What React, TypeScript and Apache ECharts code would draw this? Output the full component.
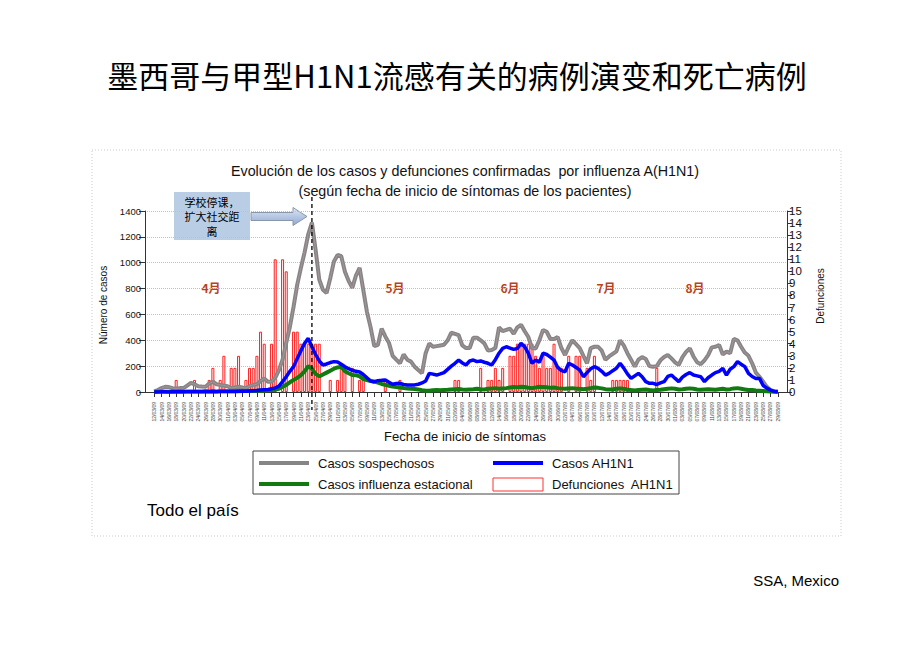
import React, { useEffect, useRef } from "react";
import * as echarts from "echarts";

// ---- data (daily, from 12/03/09) ----
const START_Y = 2009;
const START_M = 2; // March (0-based)
const START_D = 12;
const PAD = 2; // empty categories at each end of the axis
const CLOSURE_DAY = 43; // index of 24/04/09, school closure

const sospechosos = [
  5, 15, 30, 40, 38, 30, 28, 30, 30, 50,
  70, 60, 45, 42, 40, 65, 80, 60, 55, 50,
  45, 30, 35, 40, 35, 30, 45, 55, 60, 85,
  105, 80, 80, 110, 170, 250, 380, 505, 660, 830,
  960, 1080, 1220, 1310, 1100, 870, 790, 765, 880, 1010,
  1060, 1050, 930, 860, 805, 900, 960, 790, 620, 500,
  355, 365, 490, 430, 380, 280, 250, 222, 290, 250,
  235, 196, 170, 145, 300, 375, 350, 355, 360, 365,
  400, 460, 450, 440, 360, 340, 340, 420, 420, 400,
  376, 320, 325, 340, 500, 470, 480, 490, 450, 500,
  520, 470, 425, 340, 337, 400, 480, 466, 410, 410,
  425, 340, 286, 350, 400, 370, 340, 280, 222, 340,
  350, 350, 320, 250, 275, 295, 315, 400, 360, 300,
  250, 196, 250, 270, 255, 200, 196, 200, 245, 270,
  286, 260, 230, 210, 270, 310, 337, 275, 230, 215,
  245, 285, 345, 350, 363, 290, 312, 300, 410, 400,
  350, 305, 280, 222, 150, 118, 80, 40, 15, 6,
  2,
];

const ah1n1 = [
  0, 0, 1, 1, 0, 1, 1, 2, 1, 2,
  1, 2, 1, 2, 3, 2, 3, 2, 3, 3,
  4, 3, 4, 5, 5, 6, 8, 10, 12, 15,
  18, 20, 25, 32, 45, 80, 118, 160, 196, 260,
  320, 376, 415, 350, 290, 240, 209, 217, 228, 235,
  232, 215, 196, 180, 168, 160, 155, 135, 110, 85,
  80, 88, 90, 93, 75, 60, 65, 67, 58, 54,
  54, 55, 60, 70, 85, 144, 138, 131, 140, 150,
  175, 200, 222, 247, 225, 209, 240, 247, 235, 240,
  230, 222, 209, 250, 300, 337, 350, 340, 330, 337,
  376, 350, 299, 222, 247, 230, 300, 290, 270, 247,
  190, 165, 157, 222, 209, 190, 170, 118, 150, 180,
  196, 183, 160, 131, 144, 165, 183, 222, 185, 140,
  105, 125, 144, 118, 80, 67, 67, 58, 70, 80,
  120, 131, 105, 80, 115, 135, 150, 131, 125, 118,
  80, 110, 131, 150, 160, 183, 131, 176, 196, 235,
  215, 196, 144, 120, 105, 105, 50, 30, 15, 5,
  0,
];

const estacional = [
  0, 1, 2, 1, 2, 3, 2, 3, 2, 3,
  3, 4, 3, 4, 5, 4, 5, 4, 5, 6,
  5, 6, 5, 6, 7, 8, 7, 8, 9, 10,
  12, 14, 16, 18, 25, 40, 55, 75, 93, 110,
  130, 160, 200, 180, 140, 120, 135, 150, 165, 180,
  190, 196, 160, 145, 131, 130, 120, 100, 93, 85,
  80, 72, 62, 55, 48, 42, 38, 35, 30, 28,
  26, 23, 20, 14, 9, 10, 14, 15, 13, 16,
  17, 20, 22, 23, 20, 18, 20, 22, 25, 22,
  20, 25, 28, 30, 25, 28, 30, 35, 38, 36,
  40, 38, 33, 30, 35, 40, 38, 36, 32, 35,
  30, 28, 25, 28, 30, 26, 25, 22, 25, 30,
  35, 32, 28, 22, 20, 22, 25, 28, 25, 20,
  15, 12, 15, 18, 20, 15, 12, 15, 18, 22,
  25, 28, 25, 20, 22, 25, 28, 25, 20, 18,
  20, 22, 20, 18, 22, 25, 20, 22, 28, 30,
  25, 20, 15, 15, 12, 10, 8, 5, 4, 2,
  1,
];

const defunciones = [
  0, 0, 0, 0, 0, 0, 1, 0, 0, 0,
  0, 1, 0, 0, 0, 1, 2, 0, 1, 3,
  0, 2, 2, 3, 0, 1, 2, 2, 3, 5,
  4, 0, 4, 11, 0, 11, 10, 0, 5, 5,
  4, 4, 4, 4, 4, 4, 0, 0, 1, 0,
  1, 2, 2, 0, 2, 0, 1, 1, 0, 0,
  0, 0, 0, 1, 0, 0, 0, 1, 0, 0,
  0, 0, 0, 0, 0, 0, 0, 0, 0, 0,
  0, 0, 1, 1, 0, 0, 0, 0, 0, 2,
  0, 1, 1, 2, 1, 2, 0, 3, 3, 4,
  4, 4, 4, 4, 3, 2, 3, 2, 2, 4,
  2, 2, 0, 3, 0, 3, 3, 0, 2, 1,
  3, 0, 0, 0, 0, 1, 1, 1, 1, 1,
  0, 0, 0, 0, 0, 0, 0, 2, 0, 0,
  0, 0, 0, 0, 0, 0, 0, 0, 0, 0,
  0, 0, 0, 0, 0, 0, 0, 0, 0, 0,
  0, 0, 0, 0, 0, 0, 0, 0, 0, 0,
  0,
];

const monthLabels = ["4月", "5月", "6月", "7月", "8月"];
const monthX = [211, 395, 510, 606, 695];

const seriesNames = {
  sosp: "Casos sospechosos",
  ah: "Casos AH1N1",
  est: "Casos influenza estacional",
  def: "Defunciones  AH1N1",
};

const LATIN = "'Liberation Sans', Arial, sans-serif";
const CJK = "'Noto Sans CJK SC', sans-serif";

function two(n: number) {
  return n < 10 ? "0" + n : "" + n;
}
function dateLabel(i: number) {
  const d = new Date(START_Y, START_M, START_D + i);
  return two(d.getDate()) + "/" + two(d.getMonth() + 1) + "/" + two(d.getFullYear() % 100);
}

const hiddenSymbol = { color: "rgba(0,0,0,0)", borderWidth: 0, opacity: 0 };

export default function App() {
  const ref = useRef<HTMLDivElement>(null);

  useEffect(() => {
    if (!ref.current) return;
    const chart = echarts.init(ref.current, undefined, { renderer: "svg" });
    const n = sospechosos.length;
    const padL = Array.from({ length: PAD }, (_, k) => " ".repeat(k + 1));
    const padR = Array.from({ length: PAD }, (_, k) => " ".repeat(k + 1 + PAD));
    const categories = [...padL, ...sospechosos.map((_, i) => dateLabel(i)), ...padR];
    const nulls = Array.from({ length: PAD }, () => null);
    const padData = (arr: (number | null)[]) => [...nulls, ...arr, ...nulls];
    const showIdx = (idx: number) => idx >= PAD && idx < PAD + n && (idx - PAD) % 2 === 0;

    const legendCommon = {
      orient: "vertical",
      itemWidth: 50,
      itemHeight: 13,
      itemGap: 8,
      padding: 0,
      selectedMode: false,
      textStyle: { fontSize: 13, color: "#111", fontFamily: LATIN, padding: [0, 0, 0, 4] },
    };

    const option: any = {
      animation: false,
      backgroundColor: "#ffffff",
      title: [
        {
          text: "墨西哥与甲型H1N1流感有关的病例演变和死亡病例",
          left: 457,
          top: 59,
          textAlign: "center",
          padding: 0,
          textStyle: { fontSize: 31, fontWeight: "normal", color: "#000", fontFamily: CJK },
        },
        {
          text:
            "Evolución de los casos y defunciones confirmadas  por influenza A(H1N1)\n(según fecha de inicio de síntomas de los pacientes)",
          left: 465,
          top: 161,
          textAlign: "center",
          padding: 0,
          textStyle: { fontSize: 14.3, lineHeight: 20, fontWeight: "normal", color: "#111", fontFamily: LATIN },
        },
      ],
      legend: [
        {
          ...legendCommon,
          left: 257,
          top: 456.5,
          data: [
            { name: seriesNames.sosp, lineStyle: { width: 4, color: "#858585" }, itemStyle: hiddenSymbol },
            { name: seriesNames.est, lineStyle: { width: 4, color: "#117a11" }, itemStyle: hiddenSymbol },
          ],
        },
        {
          ...legendCommon,
          left: 491,
          top: 456.5,
          data: [
            { name: seriesNames.ah, lineStyle: { width: 4, color: "#0000ff" }, itemStyle: hiddenSymbol },
            {
              name: seriesNames.def,
              icon: "rect",
              itemStyle: { color: "#ffffff", borderColor: "#ff3030", borderWidth: 1 },
            },
          ],
        },
      ],
      grid: { left: 145, right: 133, top: 211, bottom: 259, containLabel: false },
      xAxis: {
        type: "category",
        data: categories,
        boundaryGap: true,
        offset: 7,
        axisLine: { show: true, lineStyle: { color: "#333", width: 1 } },
        axisTick: {
          show: true,
          interval: (idx: number) => showIdx(idx),
          alignWithLabel: true,
          length: 5,
          lineStyle: { color: "#333" },
        },
        axisLabel: {
          interval: (idx: number) => showIdx(idx),
          rotate: 90,
          fontSize: 5,
          color: "#444",
          margin: 3,
          fontFamily: LATIN,
        },
        splitLine: { show: false },
      },
      yAxis: [
        {
          type: "value",
          min: 0,
          max: 1400,
          interval: 200,
          position: "left",
          axisLine: { show: true, lineStyle: { color: "#333" } },
          axisTick: { show: true, length: 6, lineStyle: { color: "#333" } },
          axisLabel: {
            fontSize: 9.5,
            color: "#111",
            margin: 4,
            fontFamily: LATIN,
            formatter: (v: number) => String(v),
          },
          splitLine: { show: true, lineStyle: { color: "#b2c6da", type: "dotted", width: 1 } },
        },
        {
          type: "value",
          min: 0,
          max: 15,
          interval: 1,
          position: "right",
          axisLine: { show: true, lineStyle: { color: "#333" } },
          axisTick: { show: true, length: 5, lineStyle: { color: "#333" } },
          axisLabel: {
            fontSize: 11.5,
            lineHeight: 11,
            color: "#111",
            margin: 2,
            fontFamily: LATIN,
            showMinLabel: true,
            showMaxLabel: true,
            hideOverlap: false,
            formatter: (v: number) => String(v),
          },
          splitLine: { show: false },
        },
      ],
      series: [
        {
          name: seriesNames.def,
          type: "bar",
          yAxisIndex: 1,
          barWidth: 3,
          z: 1,
          data: padData(defunciones.map((v) => (v > 0 ? v : null))),
          itemStyle: { color: "rgba(255,225,225,0.45)", borderColor: "#ff2020", borderWidth: 1 },
        },
        {
          name: seriesNames.sosp,
          type: "line",
          symbol: "none",
          z: 3,
          data: padData(sospechosos),
          lineStyle: { color: "#858585", width: 4 },
          itemStyle: { color: "#858585" },
        },
        {
          name: "sospechosos-centro",
          type: "line",
          symbol: "none",
          silent: true,
          z: 4,
          data: padData(sospechosos),
          lineStyle: { color: "#a89498", width: 1 },
        },
        {
          name: seriesNames.est,
          type: "line",
          symbol: "none",
          z: 5,
          data: padData(estacional),
          lineStyle: { color: "#117a11", width: 4 },
          itemStyle: { color: "#117a11" },
        },
        {
          name: seriesNames.ah,
          type: "line",
          symbol: "none",
          z: 6,
          data: padData(ah1n1),
          lineStyle: { color: "#0000ff", width: 3.5 },
          itemStyle: { color: "#0000ff" },
        },
      ],
      graphic: [
        {
          id: "frame",
          type: "rect",
          silent: true,
          shape: { x: 92, y: 150, width: 749, height: 386 },
          style: { fill: "none", stroke: "#c5ccd6", lineWidth: 1, lineDash: [1, 2] },
        },
        {
          id: "legendBox",
          type: "rect",
          silent: true,
          shape: { x: 253, y: 451, width: 426, height: 43 },
          style: { fill: "none", stroke: "#444", lineWidth: 1 },
        },
        {
          id: "noteBox",
          type: "rect",
          silent: true,
          shape: { x: 174, y: 192, width: 76, height: 48 },
          style: { fill: "#b9cde5" },
        },
        {
          id: "noteText",
          type: "text",
          silent: true,
          x: 212,
          y: 216,
          style: {
            text: "学校停课，\n扩大社交距\n离",
            fontSize: 11,
            lineHeight: 14.5,
            fontFamily: CJK,
            fill: "#000",
            align: "center",
            verticalAlign: "middle",
          },
        },
        {
          id: "noteArrow",
          type: "polygon",
          silent: true,
          shape: {
            points: [
              [251, 212.5],
              [293, 212.5],
              [293, 207.5],
              [307, 216.5],
              [293, 225.5],
              [293, 220.5],
              [251, 220.5],
            ],
          },
          style: {
            fill: new echarts.graphic.LinearGradient(0, 0, 0, 1, [
              { offset: 0, color: "#dfe8f5" },
              { offset: 1, color: "#8ea7d2" },
            ]),
            stroke: "#8a96aa",
            lineWidth: 1,
          },
        },
        ...monthLabels.map((t, i) => ({
          id: "month" + i,
          type: "text",
          silent: true,
          x: monthX[i],
          y: 287,
          style: {
            text: t,
            fontSize: 12,
            fontWeight: "bold",
            fontFamily: CJK,
            fill: "#b8421e",
            align: "center",
            verticalAlign: "middle",
          },
        })),
        {
          id: "yName",
          type: "text",
          silent: true,
          x: 103,
          y: 305,
          rotation: Math.PI / 2,
          style: {
            text: "Número de casos",
            fontSize: 10,
            fontFamily: LATIN,
            fill: "#111",
            align: "center",
            verticalAlign: "middle",
          },
        },
        {
          id: "y2Name",
          type: "text",
          silent: true,
          x: 820,
          y: 296,
          rotation: Math.PI / 2,
          style: {
            text: "Defunciones",
            fontSize: 10,
            fontFamily: LATIN,
            fill: "#111",
            align: "center",
            verticalAlign: "middle",
          },
        },
        {
          id: "xName",
          type: "text",
          silent: true,
          x: 465,
          y: 436,
          style: {
            text: "Fecha de inicio de síntomas",
            fontSize: 13,
            fontFamily: LATIN,
            fill: "#111",
            align: "center",
            verticalAlign: "middle",
          },
        },
        {
          id: "scope",
          type: "text",
          silent: true,
          x: 147,
          y: 510,
          style: {
            text: "Todo el país",
            fontSize: 17,
            fontFamily: LATIN,
            fill: "#000",
            align: "left",
            verticalAlign: "middle",
          },
        },
        {
          id: "source",
          type: "text",
          silent: true,
          x: 839,
          y: 580,
          style: {
            text: "SSA, Mexico",
            fontSize: 15,
            fontFamily: LATIN,
            fill: "#000",
            align: "right",
            verticalAlign: "middle",
          },
        },
      ],
    };

    chart.setOption(option);

    // dashed school-closure line, positioned through the category axis
    const px = chart.convertToPixel({ xAxisIndex: 0 }, dateLabel(CLOSURE_DAY)) as number;
    if (typeof px === "number" && isFinite(px)) {
      chart.setOption({
        graphic: [
          {
            id: "closure",
            type: "line",
            silent: true,
            z: 100,
            shape: { x1: px, y1: 197, x2: px, y2: 410 },
            style: { stroke: "#000", lineDash: [4, 3], lineWidth: 1.3 },
          },
        ],
      });
    }

    return () => {
      chart.dispose();
    };
  }, []);

  return (
    <div
      ref={ref}
      style={{ position: "fixed", left: 0, top: 0, width: 920, height: 651, background: "#fff" }}
    />
  );
}
